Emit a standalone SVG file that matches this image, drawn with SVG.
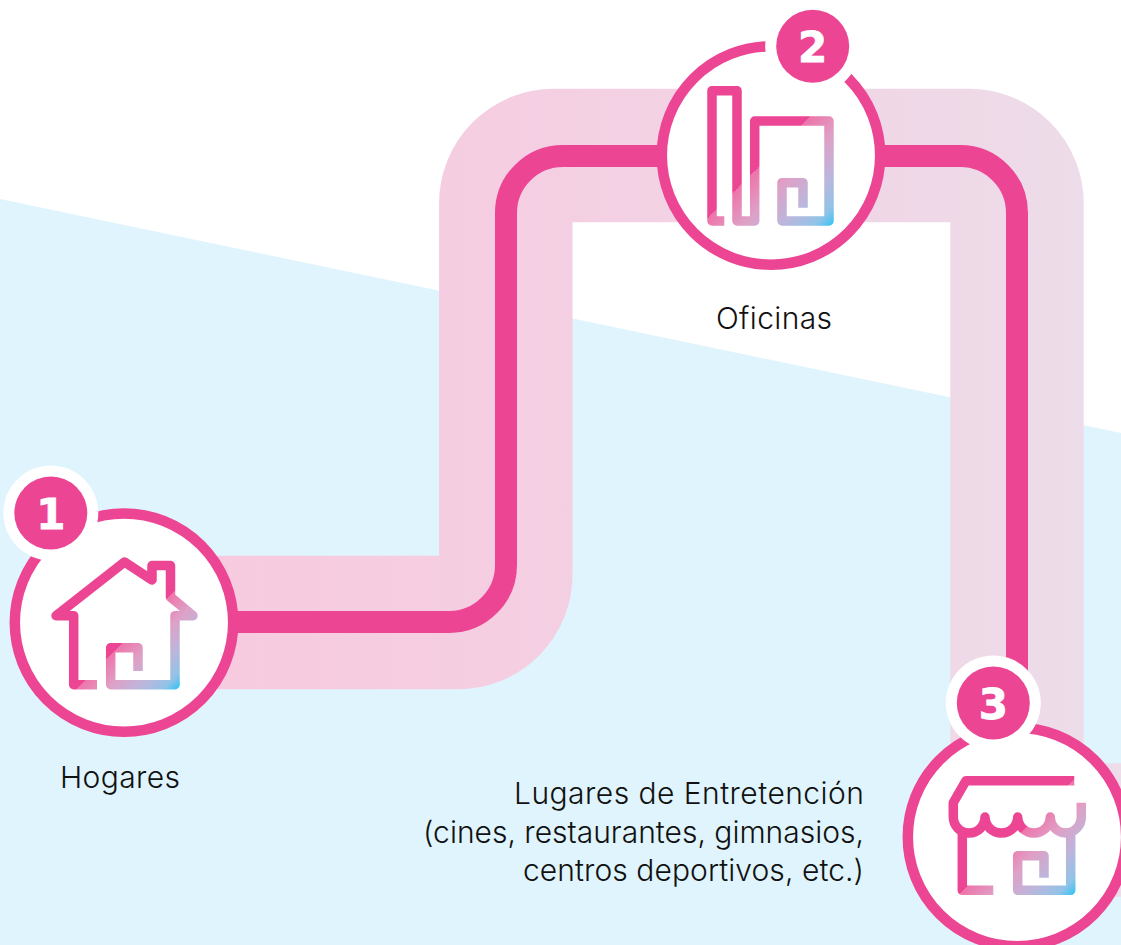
<svg xmlns="http://www.w3.org/2000/svg" width="1121" height="945" viewBox="0 0 1121 945">
<style>
.ring{fill:#fff;stroke:#ec4593;stroke-width:10.5}
.halo{fill:#fff}
.dot{fill:#ec4593}
.num{fill:#fff;stroke:#fff;stroke-width:.8;font-family:"DejaVu Sans",sans-serif;font-weight:700;font-size:42px;text-anchor:middle}
.lbl{fill:#111;font-family:"Inter",sans-serif;font-weight:300;font-size:30px}
.ico{fill:none;stroke-width:9.5;stroke-linejoin:round}
</style>
<defs>
<linearGradient id="band" gradientUnits="userSpaceOnUse" x1="200" y1="0" x2="1084" y2="0">
<stop offset="0" stop-color="#f7cadf"/><stop offset=".35" stop-color="#f5cee2"/><stop offset="1" stop-color="#eddce9"/>
</linearGradient>
<linearGradient id="g1" gradientUnits="userSpaceOnUse" x1="382.500" y1="382.500" x2="434" y2="434">
<stop offset="0" stop-color="#ec4593"/><stop offset="0" stop-color="#ee74aa"/><stop offset=".3" stop-color="#dfa0c6"/><stop offset=".6" stop-color="#bcb6dc"/><stop offset=".85" stop-color="#90c3e8"/><stop offset="1" stop-color="#2cc4f4"/>
</linearGradient>
<linearGradient id="g2" gradientUnits="userSpaceOnUse" x1="463" y1="463" x2="530" y2="530">
<stop offset="0" stop-color="#ec4593"/><stop offset="0" stop-color="#ee74aa"/><stop offset=".3" stop-color="#dfa0c6"/><stop offset=".6" stop-color="#bcb6dc"/><stop offset=".85" stop-color="#90c3e8"/><stop offset="1" stop-color="#2cc4f4"/>
</linearGradient>
<linearGradient id="g3" gradientUnits="userSpaceOnUse" x1="926.500" y1="926.500" x2="985" y2="985">
<stop offset="0" stop-color="#ec4593"/><stop offset="0" stop-color="#ee74aa"/><stop offset=".3" stop-color="#dfa0c6"/><stop offset=".6" stop-color="#bcb6dc"/><stop offset=".85" stop-color="#90c3e8"/><stop offset="1" stop-color="#2cc4f4"/>
</linearGradient>
</defs>
<rect width="1121" height="945" fill="#fff"/>
<polygon points="0,199 1121,433 1121,945 0,945" fill="#dff4fc"/>
<g id="connectors" fill="none">
<path stroke="url(#band)" stroke-width="133.500" d="M124,622.500 H457.800 A48 48 0 0 0 505.800,574.500 V203.500 A48 48 0 0 1 553.800,155.500 H969 A48 48 0 0 1 1017,203.500 V782 A48 48 0 0 0 1065,830 H1121"/>
<path stroke="#ec4593" stroke-width="22" d="M124,622 H449 A57 57 0 0 0 506,565 V213 A57 57 0 0 1 563,156 H960 A57 57 0 0 1 1017,213 V760"/>
</g>
<g id="node-1">
<circle class="ring" cx="124" cy="622.600" r="109.200"/>
<circle class="halo" cx="50.800" cy="513" r="47.500"/>
<circle class="dot" cx="50.800" cy="513" r="36.500"/>
<text class="num" x="50.800" y="529">1</text>
<path class="ico" stroke="url(#g1)" d="M97,684.700 H73.700 V615.700 H56 L124.500,562 L152,580 V565.500 H170.500 V597 L193,615.700 H175 V684.700 H110.700 V647.700 H138 V671"/>
<text class="lbl" x="60" y="788" textLength="120">Hogares</text>
</g>
<g id="node-2">
<circle class="ring" cx="771" cy="155.500" r="109.200"/>
<circle class="halo" cx="812.700" cy="46.300" r="47.500"/>
<circle class="dot" cx="812.700" cy="46.300" r="36.500"/>
<text class="num" x="812.700" y="62">2</text>
<path class="ico" stroke="url(#g2)" d="M724.300,221 H712 V90.700 H737 V221 H754.700 V121 H829 V221 H782 V182.700 H803 V207.700"/>
<text class="lbl" x="716" y="328.500" textLength="116">Oficinas</text>
</g>
<g id="node-3">
<circle class="ring" cx="1017" cy="837" r="109.200"/>
<circle class="halo" cx="993.300" cy="703" r="47.500"/>
<circle class="dot" cx="993.300" cy="703" r="36.500"/>
<text class="num" x="993.300" y="719">3</text>
<path class="ico" stroke="url(#g3)" d="M1074.300,780.700 H966 L953.300,802.700 V817 A15.850 16 0 0 0 985,817 A16.350 16 0 0 0 1017.700,817 A16.300 16 0 0 0 1050.300,817 A15.500 16 0 0 0 1081.300,817 V802.700 M993.300,890.300 H962.300 V833 M1070.700,833 V890.300 H1017.700 V855.700 H1044 V877.700"/>
<text class="lbl" x="514" y="804" textLength="350">Lugares de Entretención</text>
<text class="lbl" x="423" y="843" textLength="441">(cines, restaurantes, gimnasios,</text>
<text class="lbl" x="523" y="881" textLength="341">centros deportivos, etc.)</text>
</g>
</svg>
